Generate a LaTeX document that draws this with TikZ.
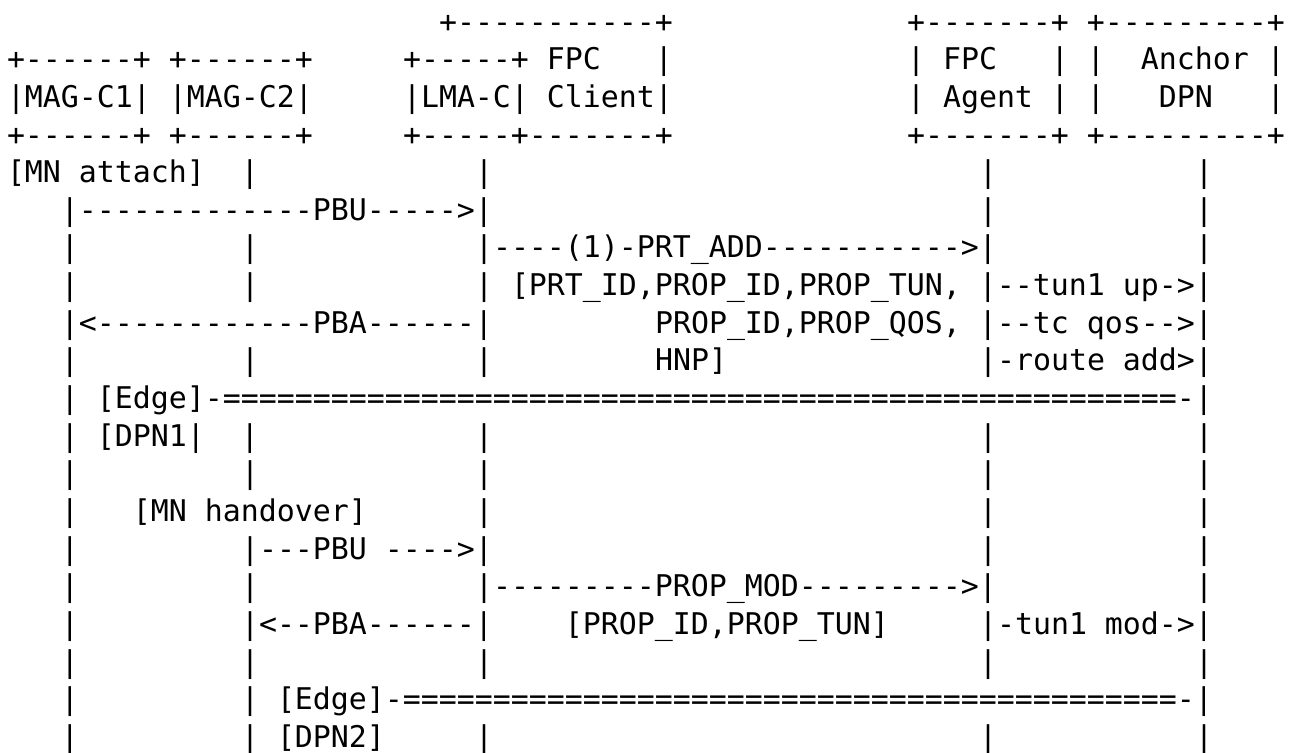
\documentclass[tikz,border=0pt]{standalone}
\usepackage{fontspec}
\setmonofont{DejaVu Sans Mono}
% carattere a passo fisso, 9pt per colonna
\newcommand\asciifont{\ttfamily\fontsize{14.949pt}{18.825pt}\selectfont}
\newcommand\blanks[1]{\hspace*{#1\fontdimen2\font}}
\newcommand\runof[2]{\foreach \cnt in {1,...,#1}{#2}}
\tikzset{ascii/.style={anchor=base west, inner sep=0pt, outer sep=0pt, font=\asciifont}}

\begin{document}
\begin{tikzpicture}[x=9pt, y=-18.825pt]
      \useasboundingbox (-0.3889,-0.8526) rectangle (71.5556,19.1474);

      % Intestazione con i riquadri
      \node[ascii] (hdr1) at (0,0) {\blanks{24}+\runof{11}{-}+\blanks{13}+\runof{7}{-}+~+\runof{9}{-}+};
      \node[ascii] (hdr2) at (0,1) {+\runof{6}{-}+~+\runof{6}{-}+\blanks{5}+\runof{5}{-}+~FPC\blanks{3}|\blanks{13}|~FPC\blanks{3}|~|\blanks{2}Anchor~|};
      \node[ascii] (hdr3) at (0,2) {|MAG-C1|~|MAG-C2|\blanks{5}|LMA-C|~Client|\blanks{13}|~Agent~|~|\blanks{3}DPN\blanks{3}|};
      \node[ascii] (hdr4) at (0,3) {+\runof{6}{-}+~+\runof{6}{-}+\blanks{5}+\runof{5}{-}+\runof{7}{-}+\blanks{13}+\runof{7}{-}+~+\runof{9}{-}+};

      % Attacco del MN
      \node[ascii] (attach) at (0,4) {[MN~attach]\blanks{2}|\blanks{12}|\blanks{27}|\blanks{11}|};
      \node[ascii] (pbu1) at (0,5) {\blanks{3}|\runof{13}{-}PBU\runof{5}{-}>|\blanks{27}|\blanks{11}|};
      \node[ascii] (prtadd) at (0,6) {\blanks{3}|\blanks{9}|\blanks{12}|----(1)-PRT\_ADD\runof{11}{-}>|\blanks{11}|};
      \node[ascii] (prtid) at (0,7) {\blanks{3}|\blanks{9}|\blanks{12}|~[PRT\_ID,PROP\_ID,PROP\_TUN,~|--tun1~up->|};
      \node[ascii] (pba1) at (0,8) {\blanks{3}|<\runof{12}{-}PBA\runof{6}{-}|\blanks{9}PROP\_ID,PROP\_QOS,~|--tc~qos-->|};
      \node[ascii] (hnp) at (0,9) {\blanks{3}|\blanks{9}|\blanks{12}|\blanks{9}HNP]\blanks{14}|-route~add>|};
      \node[ascii] (edge1) at (0,10) {\blanks{3}|~[Edge]-\runof{53}{=}-|};
      \node[ascii] (dpn1) at (0,11) {\blanks{3}|~[DPN1|\blanks{2}|\blanks{12}|\blanks{27}|\blanks{11}|};
      \node[ascii] (life1) at (0,12) {\blanks{3}|\blanks{9}|\blanks{12}|\blanks{27}|\blanks{11}|};

      % Handover del MN
      \node[ascii] (handover) at (0,13) {\blanks{3}|\blanks{3}[MN~handover]\blanks{6}|\blanks{27}|\blanks{11}|};
      \node[ascii] (pbu2) at (0,14) {\blanks{3}|\blanks{9}|---PBU~---->|\blanks{27}|\blanks{11}|};
      \node[ascii] (propmod) at (0,15) {\blanks{3}|\blanks{9}|\blanks{12}|\runof{9}{-}PROP\_MOD\runof{9}{-}>|\blanks{11}|};
      \node[ascii] (pba2) at (0,16) {\blanks{3}|\blanks{9}|<--PBA------|\blanks{4}[PROP\_ID,PROP\_TUN]\blanks{5}|-tun1~mod->|};
      \node[ascii] (life2) at (0,17) {\blanks{3}|\blanks{9}|\blanks{12}|\blanks{27}|\blanks{11}|};
      \node[ascii] (edge2) at (0,18) {\blanks{3}|\blanks{9}|~[Edge]-\runof{43}{=}-|};
      \node[ascii] (dpn2) at (0,19) {\blanks{3}|\blanks{9}|~[DPN2]\blanks{5}|\blanks{27}|\blanks{11}|};
    \end{tikzpicture}
\end{document}
